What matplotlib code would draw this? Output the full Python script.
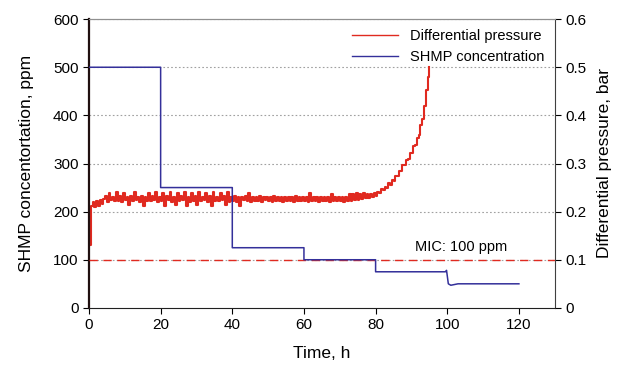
import matplotlib.pyplot as plt
import numpy as np

plt.rcParams['font.family'] = ['Liberation Sans', 'DejaVu Sans']

# SHMP dosing steps (ppm)
shmp_time = [0, 20, 20, 40, 40, 60, 60, 80, 80, 99.5, 99.8, 100.3, 101, 103, 120]
shmp_ppm = [500, 500, 250, 250, 125, 125, 100, 100, 75, 75, 78, 50, 47, 50, 50]

# differential pressure (bar), sampled every 0.5 h
dp_step = 0.5
dp_bar = [
    0.130, 0.212, 0.220, 0.209, 0.222, 0.211, 0.224, 0.215, 0.226, 0.232, 0.221, 0.238, 0.224, 0.231, 0.222, 0.240, 0.223, 0.232, 0.221, 0.239,
    0.224, 0.231, 0.213, 0.233, 0.222, 0.240, 0.224, 0.230, 0.221, 0.232, 0.212, 0.231, 0.223, 0.239, 0.222, 0.232, 0.224, 0.240, 0.221, 0.230,
    0.222, 0.239, 0.212, 0.232, 0.224, 0.240, 0.221, 0.231, 0.213, 0.238, 0.222, 0.232, 0.224, 0.240, 0.212, 0.231, 0.221, 0.239, 0.223, 0.232,
    0.213, 0.240, 0.222, 0.231, 0.224, 0.239, 0.221, 0.232, 0.212, 0.240, 0.223, 0.231, 0.222, 0.238, 0.224, 0.232, 0.213, 0.240, 0.221, 0.231,
    0.223, 0.232, 0.221, 0.230, 0.212, 0.231, 0.224, 0.232, 0.222, 0.238, 0.221, 0.230, 0.223, 0.231, 0.222, 0.232, 0.221, 0.230, 0.224, 0.231,
    0.222, 0.230, 0.221, 0.232, 0.223, 0.230, 0.222, 0.231, 0.221, 0.230, 0.223, 0.231, 0.222, 0.230, 0.221, 0.232, 0.222, 0.230, 0.223, 0.231,
    0.222, 0.230, 0.221, 0.238, 0.223, 0.230, 0.222, 0.231, 0.221, 0.230, 0.222, 0.231, 0.223, 0.230, 0.221, 0.237, 0.222, 0.230, 0.223, 0.231,
    0.222, 0.230, 0.221, 0.231, 0.222, 0.237, 0.223, 0.236, 0.224, 0.238, 0.225, 0.237, 0.226, 0.238, 0.228, 0.236, 0.229, 0.237, 0.230, 0.238,
    0.233, 0.240, 0.238, 0.246, 0.244, 0.251, 0.250, 0.259, 0.256, 0.266, 0.264, 0.274, 0.273, 0.284, 0.284, 0.296, 0.296, 0.308, 0.309, 0.321,
    0.322, 0.336, 0.339, 0.354, 0.360, 0.380, 0.392, 0.420, 0.452, 0.480, 0.500,
]
dp_time = np.arange(len(dp_bar)) * dp_step

mic_ppm = 100

fig = plt.figure(figsize=(6.24, 3.75), dpi=100)
ax1 = fig.add_axes([0.1426, 0.179, 0.7464, 0.770])
ax2 = ax1.twinx()

red = '#e02a20'
blue = '#34309a'

ax2.plot(dp_time, dp_bar, color=red, lw=1.5, drawstyle='steps-post')
ax1.axhline(mic_ppm, color=red, lw=1.0, ls=(0, (6, 4)), zorder=3)
ax1.plot(shmp_time, shmp_ppm, color=blue, lw=1.1, zorder=4)
ax1.set_zorder(ax2.get_zorder() + 1)
ax1.patch.set_visible(False)

ax1.set_xlim(0, 130)
ax1.set_ylim(0, 600)
ax2.set_ylim(0, 0.6)
ax1.set_xticks(range(0, 121, 20))
ax1.set_yticks(range(0, 601, 100))
ax2.set_yticks([0, 0.1, 0.2, 0.3, 0.4, 0.5, 0.6])
ax2.set_yticklabels(['0', '0.1', '0.2', '0.3', '0.4', '0.5', '0.6'])

for y in range(100, 601, 100):
    ax2.axhline(y / 1000, color='#a0a0a0', lw=0.8, ls=(0, (1.5, 2)), zorder=0)

for ax in (ax1, ax2):
    ax.spines['top'].set_color('#909090')
    ax.tick_params(labelsize=11, length=4, width=0.8, direction='out')
ax1.spines['left'].set_color('#201010')
ax1.spines['left'].set_linewidth(1.6)
ax2.spines['left'].set_visible(False)
ax1.spines['right'].set_visible(False)
ax2.spines['right'].set_color('#404040')
ax1.spines['bottom'].set_color('#202020')
ax2.spines['bottom'].set_visible(False)

ax1.set_xlabel('Time, h', fontsize=12.5, labelpad=10)
ax1.set_ylabel('SHMP concentortation, ppm', fontsize=12.5, labelpad=14)
ax2.set_ylabel('Differential pressure, bar', fontsize=12.5, labelpad=8)

ax1.text(104, 112, 'MIC: 100 ppm', fontsize=10.5, ha='center', va='bottom')

h1, = ax1.plot([], [], color=red, lw=1.0)
h2, = ax1.plot([], [], color=blue, lw=1.0)
ax1.legend([h1, h2], ['Differential pressure', 'SHMP concentration'], loc='upper right',
           frameon=False, fontsize=10.5, handlelength=3.2, borderaxespad=0.3,
           labelspacing=0.45, bbox_to_anchor=(1.0, 1.0))

fig.savefig('out.png', dpi=100)
